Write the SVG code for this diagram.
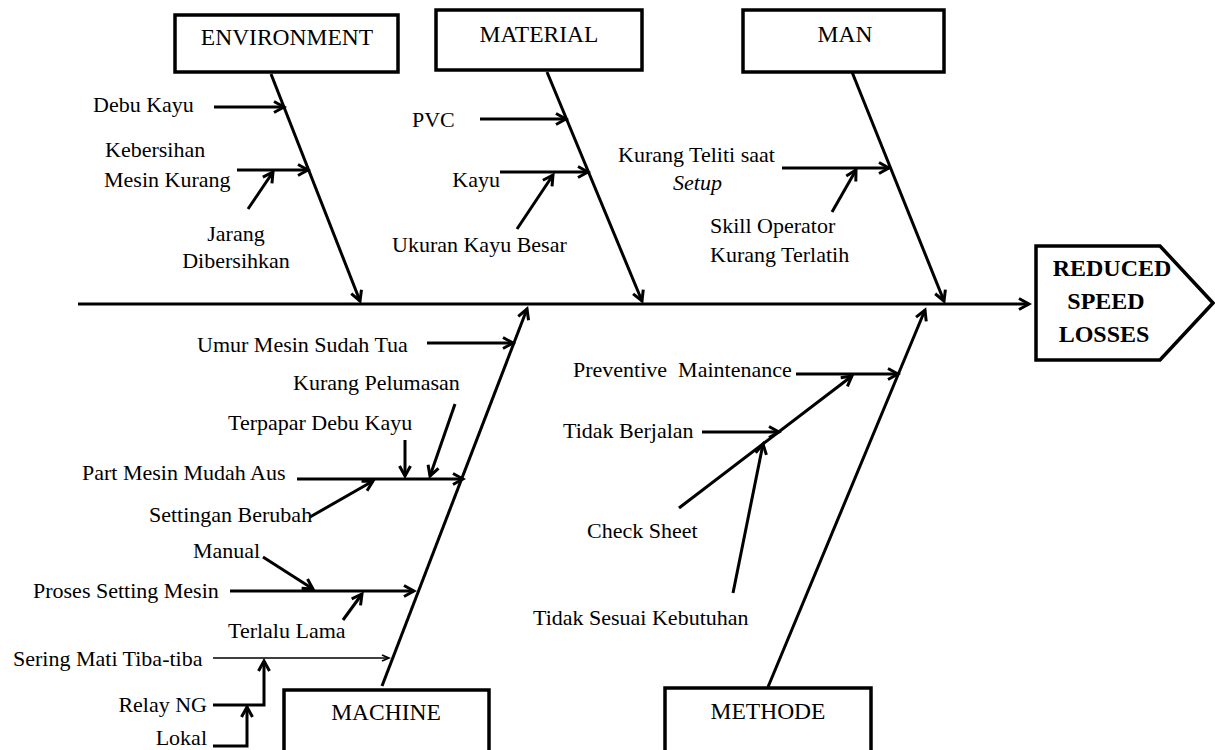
<svg xmlns="http://www.w3.org/2000/svg" width="1215" height="750" viewBox="0 0 1215 750">
<style>
text{font-family:"Liberation Serif","Times New Roman",serif;font-size:22px;fill:#000}
.t{font-size:23.5px}
.c{text-anchor:middle}
.e{text-anchor:end}
.b{font-weight:bold;font-size:24px}
.box{fill:#fff;stroke:#000;stroke-width:3.5}
.ln{fill:none;stroke:#000;stroke-width:3}
.thin{fill:none;stroke:#000;stroke-width:1.5}
</style>
<defs>
<marker id="ah" markerUnits="userSpaceOnUse" markerWidth="16" markerHeight="16" viewBox="0 0 16 16" refX="13" refY="8" orient="auto">
<path d="M3,2.5 L13,8 L3,13.5" fill="none" stroke="#000" stroke-width="3"/>
</marker>
<marker id="ahs" markerUnits="userSpaceOnUse" markerWidth="12" markerHeight="12" viewBox="0 0 12 12" refX="10" refY="6" orient="auto">
<path d="M3,3 L10,6 L3,9" fill="none" stroke="#000" stroke-width="1.8"/>
</marker>
</defs>
<rect width="1215" height="750" fill="#fff"/>

<g id="connectors">
<line class="ln" x1="78" y1="304" x2="1029" y2="304" marker-end="url(#ah)"/>
<line class="ln" x1="271" y1="74" x2="360" y2="301" marker-end="url(#ah)"/>
<line class="ln" x1="547" y1="72" x2="642" y2="301" marker-end="url(#ah)"/>
<line class="ln" x1="852" y1="72" x2="944" y2="301" marker-end="url(#ah)"/>
<line class="ln" x1="382" y1="686" x2="527" y2="309" marker-end="url(#ah)"/>
<line class="ln" x1="768" y1="687" x2="925" y2="310" marker-end="url(#ah)"/>

<line class="ln" x1="214" y1="107" x2="284" y2="107" marker-end="url(#ah)"/>
<line class="ln" x1="237" y1="170" x2="308" y2="170" marker-end="url(#ah)"/>
<line class="ln" x1="248" y1="209" x2="273" y2="172" marker-end="url(#ah)"/>

<line class="ln" x1="480" y1="119" x2="566" y2="119" marker-end="url(#ah)"/>
<line class="ln" x1="500" y1="172" x2="588" y2="172" marker-end="url(#ah)"/>
<line class="ln" x1="517" y1="229" x2="553" y2="175" marker-end="url(#ah)"/>

<line class="ln" x1="782" y1="168" x2="889" y2="168" marker-end="url(#ah)"/>
<line class="ln" x1="832" y1="212" x2="856" y2="170" marker-end="url(#ah)"/>

<line class="ln" x1="427" y1="343" x2="513" y2="343" marker-end="url(#ah)"/>
<line class="ln" x1="297" y1="479" x2="463" y2="479" marker-end="url(#ah)"/>
<line class="ln" x1="405" y1="440" x2="405" y2="476" marker-end="url(#ah)"/>
<line class="ln" x1="455" y1="404" x2="430" y2="476" marker-end="url(#ah)"/>
<line class="ln" x1="310" y1="517" x2="373" y2="481" marker-end="url(#ah)"/>
<line class="ln" x1="263" y1="557" x2="313" y2="589" marker-end="url(#ah)"/>
<line class="ln" x1="230" y1="591" x2="414" y2="591" marker-end="url(#ah)"/>
<line class="ln" x1="343" y1="620" x2="362" y2="594" marker-end="url(#ah)"/>
<line class="thin" x1="213" y1="658" x2="389" y2="658" marker-end="url(#ahs)"/>
<polyline class="ln" points="213,705 264,705 264,661" marker-end="url(#ah)"/>
<polyline class="ln" points="213,746 247,746 247,707" marker-end="url(#ah)"/>

<line class="ln" x1="796" y1="374" x2="898" y2="374" marker-end="url(#ah)"/>
<line class="ln" x1="679" y1="508" x2="852" y2="376" marker-end="url(#ah)"/>
<line class="ln" x1="702" y1="432" x2="779" y2="432" marker-end="url(#ah)"/>
<line class="ln" x1="733" y1="593" x2="763" y2="444" marker-end="url(#ah)"/>
</g>

<g id="environment">
<rect class="box" x="175" y="15" width="223" height="57"/>
<text class="t c" x="287" y="45">ENVIRONMENT</text>
</g>
<g id="material">
<rect class="box" x="436" y="10" width="206" height="60"/>
<text class="t c" x="539" y="42">MATERIAL</text>
</g>
<g id="man">
<rect class="box" x="743" y="10" width="201" height="62"/>
<text class="t c" x="845" y="42">MAN</text>
</g>
<g id="machine">
<rect class="box" x="284" y="690" width="205" height="64"/>
<text class="t c" x="386" y="720">MACHINE</text>
</g>
<g id="methode">
<rect class="box" x="665" y="688" width="206" height="66"/>
<text class="t c" x="768" y="719">METHODE</text>
</g>
<g id="effect">
<polygon points="1036,246 1160,246 1213,303 1160,360 1036,360" fill="#fff" stroke="#000" stroke-width="3.5"/>
<text class="b c" x="1112" y="276">REDUCED</text>
<text class="b c" x="1106" y="309">SPEED</text>
<text class="b c" x="1104" y="342">LOSSES</text>
</g>

<g id="env-causes">
<text x="93" y="112">Debu Kayu</text>
<text x="105" y="157">Kebersihan</text>
<text x="104" y="187">Mesin Kurang</text>
<text class="c" x="236" y="241">Jarang</text>
<text class="c" x="236" y="268">Dibersihkan</text>
</g>
<g id="material-causes">
<text x="412" y="127">PVC</text>
<text class="e" x="500" y="187">Kayu</text>
<text x="392" y="252">Ukuran Kayu Besar</text>
</g>
<g id="man-causes">
<text x="618" y="162">Kurang Teliti saat</text>
<text x="673" y="190" font-style="italic">Setup</text>
<text x="710" y="233">Skill Operator</text>
<text x="710" y="262">Kurang Terlatih</text>
</g>
<g id="machine-causes">
<text x="197" y="352">Umur Mesin Sudah Tua</text>
<text x="293" y="390">Kurang Pelumasan</text>
<text x="228" y="430">Terpapar Debu Kayu</text>
<text x="82" y="480">Part Mesin Mudah Aus</text>
<text x="149" y="522">Settingan Berubah</text>
<text x="193" y="558">Manual</text>
<text x="33" y="598">Proses Setting Mesin</text>
<text x="228" y="638">Terlalu Lama</text>
<text x="13" y="666">Sering Mati Tiba-tiba</text>
<text class="e" x="207" y="712">Relay NG</text>
<text class="e" x="207" y="745">Lokal</text>
</g>
<g id="methode-causes">
<text x="573" y="377" style="white-space:pre">Preventive  Maintenance</text>
<text x="563" y="438">Tidak Berjalan</text>
<text x="587" y="538">Check Sheet</text>
<text x="533" y="625">Tidak Sesuai Kebutuhan</text>
</g>
</svg>
